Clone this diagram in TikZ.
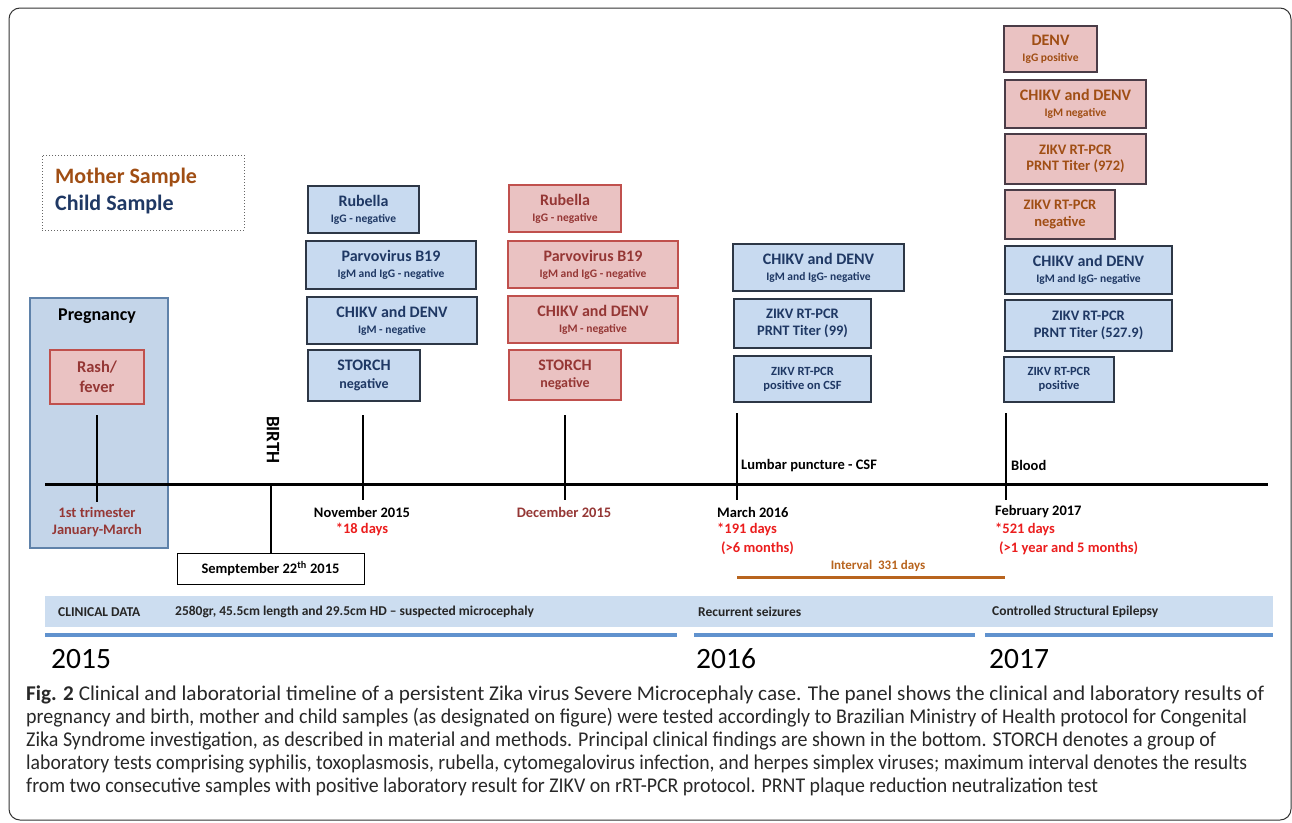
\documentclass[tikz,border=0pt]{standalone}
\usepackage{fontspec}
\usepackage{graphicx}
\setmainfont{Carlito}
\definecolor{cfill}{RGB}{200,218,240}
\definecolor{cdraw}{RGB}{45,55,70}
\definecolor{cnavy}{RGB}{31,56,100}
\definecolor{mfill}{RGB}{234,194,194}
\definecolor{mdraw}{RGB}{192,80,77}
\definecolor{mred}{RGB}{149,55,53}
\definecolor{mbrown}{RGB}{160,78,20}
\definecolor{pfill}{RGB}{196,213,233}
\definecolor{pdraw}{RGB}{95,130,170}
\definecolor{bandfill}{RGB}{204,221,240}
\definecolor{barblue}{RGB}{96,146,206}
\definecolor{dred}{RGB}{235,30,30}
\definecolor{ibrown}{RGB}{184,100,30}
\definecolor{captxt}{RGB}{40,40,40}
\newcommand{\mytf}{\fontsize{16}{16}\selectfont\bfseries}
\newcommand{\mysf}{\fontsize{11.5}{16}\selectfont\bfseries}
\newcommand{\caplinex}[2]{\resizebox{#1pt}{\height}{#2}}
\tikzset{
  cbox/.style={draw=cdraw, fill=cfill, line width=1.1pt, text=cnavy, align=center, inner sep=0pt},
  mbox/.style={draw=mdraw, fill=mfill, line width=1.1pt, text=mred, align=center, inner sep=0pt},
  fbox/.style={mbox, draw=cdraw!80!mdraw, text=mbrown},
  two/.style={font=\fontsize{11.5}{16}\selectfont\bfseries},
  big/.style={font=\fontsize{14.5}{16.5}\selectfont\bfseries},
  small/.style={font=\fontsize{12.5}{14}\selectfont\bfseries},
  stor/.style={font=\fontsize{14}{17.5}\selectfont\bfseries},
  tick/.style={line width=1.4pt, black},
  lbl/.style={font=\fontsize{14.5}{16}\selectfont\bfseries, inner sep=0pt},
  clin/.style={font=\fontsize{13.5}{14}\selectfont\bfseries, anchor=west, inner sep=0pt, text=black!85},
  year/.style={font=\fontsize{29.5}{32}\selectfont, anchor=west, inner sep=0pt},
  capl/.style={anchor=base west, inner sep=0pt, text=captxt, font=\fontsize{21}{23}\selectfont},
}
\begin{document}
\begin{tikzpicture}[x=1pt,y=-1pt]
\useasboundingbox (0,0) rectangle (1292,822);
% outer frame
\draw[line width=1pt, black!80, rounded corners=11pt] (9,8) rectangle (1291,820);
% legend
\node[draw=black!60, dotted, line width=1pt, minimum width=202, minimum height=75, inner sep=0pt] (legend) at (143,192.5) {};
\node[anchor=west, inner sep=0pt, text=mbrown, font=\fontsize{22}{24}\selectfont\bfseries] (lm) at (55,178) {Mother Sample};
\node[anchor=west, inner sep=0pt, text=cnavy, font=\fontsize{22}{24}\selectfont\bfseries] (lc) at (55,205) {Child Sample};
% pregnancy
\node[draw=pdraw, fill=pfill, line width=1.1pt, minimum width=138, minimum height=250, inner sep=0pt] (preg) at (99,423) {};
\node[inner sep=0pt, font=\fontsize{18}{20}\selectfont\bfseries] (pregt) at (97,316) {Pregnancy};
\node[mbox, minimum width=94, minimum height=54, font=\fontsize{16.5}{20}\selectfont\bfseries] (rash) at (97,377) {Rash/\\fever};
% main timeline
\coordinate (tl0) at (45,484);
\coordinate (tl1) at (1268,484);
\draw[line width=3pt] (tl0) -- (tl1);
% pregnancy tick
\coordinate (p0) at (97,415); \coordinate (p1) at (97,502);
\draw[tick] (p0) -- (p1);
\node[lbl, text=mred, align=center, font=\fontsize{14.5}{17}\selectfont\bfseries] (trim) at (97,522) {1st trimester\\January-March};
% birth
\node[draw=black, fill=white, line width=1pt, minimum width=187, minimum height=31, inner sep=0pt, font=\fontsize{14.5}{16}\selectfont\bfseries] (date) at (270.5,568.5) {Semptember 22\textsuperscript{th} 2015};
\coordinate (b0) at (271,484);
\draw[tick] (b0) -- (date.north -| b0);
\node[lbl, rotate=-90, font=\fontsize{19}{20}\selectfont\bfseries] (birth) at (273,440) {BIRTH};
% November (child)
\node[cbox, two, minimum width=111, minimum height=47] (nr) at (363.5,209.5) {{\mytf Rubella}\\IgG - negative};
\node[cbox, two, minimum width=170, minimum height=48] (np) at (391,265) {{\mytf Parvovirus B19}\\IgM and IgG - negative};
\node[cbox, two, minimum width=170, minimum height=47] (nc) at (392,320.5) {{\mytf CHIKV and DENV}\\IgM - negative};
\node[cbox, stor, minimum width=112, minimum height=51] (ns) at (364,375.5) {{\mytf STORCH}\\negative};
\coordinate (n0) at (363,415); \coordinate (n1) at (363,500);
\draw[tick] (n0) -- (n1);
\node[lbl] (nl1) at (362,512) {November 2015};
\node[lbl, text=dred] (nl2) at (362,529) {*18 days};
% December (mother)
\node[mbox, two, minimum width=112, minimum height=47] (dr) at (565,208.5) {{\mytf Rubella}\\IgG - negative};
\node[mbox, two, minimum width=170, minimum height=47] (dp) at (593,264.5) {{\mytf Parvovirus B19}\\IgM and IgG - negative};
\node[mbox, two, minimum width=170, minimum height=47] (dc) at (593,319.5) {{\mytf CHIKV and DENV}\\IgM - negative};
\node[mbox, stor, minimum width=112, minimum height=50] (ds) at (565,375) {{\mytf STORCH}\\negative};
\coordinate (d0) at (565,415); \coordinate (d1) at (565,500);
\draw[tick] (d0) -- (d1);
\node[lbl, text=mred] (dl1) at (564,512) {December 2015};
% March 2016 (child)
\node[cbox, two, minimum width=171, minimum height=47] (mc) at (818.5,267.5) {{\mytf CHIKV and DENV}\\IgM and IgG- negative};
\node[cbox, big, minimum width=137, minimum height=49] (mz) at (802.5,323.5) {ZIKV RT-PCR\\PRNT Titer (99)};
\node[cbox, small, minimum width=137, minimum height=46] (mp) at (802.5,379) {ZIKV RT-PCR\\positive on CSF};
\coordinate (m0) at (737,413); \coordinate (m1) at (737,500);
\draw[tick] (m0) -- (m1);
\node[lbl, anchor=west] (lp) at (741,466) {Lumbar puncture - CSF};
\node[lbl, anchor=west] (ml1) at (717,512) {March 2016};
\node[lbl, anchor=west, text=dred] (ml2) at (717,529) {*191 days};
\node[lbl, anchor=west, text=dred] (ml3) at (721,548) {(>6 months)};
% February 2017
\node[fbox, two, minimum width=93, minimum height=46] (f1) at (1050.5,49) {{\mytf DENV}\\IgG positive};
\node[fbox, two, minimum width=141, minimum height=48] (f2) at (1075.5,104) {{\mytf CHIKV and DENV}\\IgM negative};
\node[fbox, big, minimum width=141, minimum height=50] (f3) at (1075.5,159) {ZIKV RT-PCR\\PRNT Titer (972)};
\node[fbox, big, minimum width=110, minimum height=49] (f4) at (1060,214.5) {ZIKV RT-PCR\\negative};
\node[cbox, two, minimum width=167, minimum height=48] (f5) at (1088.5,270) {{\mytf CHIKV and DENV}\\IgM and IgG- negative};
\node[cbox, big, minimum width=167, minimum height=51] (f6) at (1088.5,325.5) {ZIKV RT-PCR\\PRNT Titer (527.9)};
\node[cbox, small, minimum width=110, minimum height=45] (f7) at (1059,379.5) {ZIKV RT-PCR\\positive};
\coordinate (fb0) at (1006,413); \coordinate (fb1) at (1006,500);
\draw[tick] (fb0) -- (fb1);
\node[lbl, anchor=west] (bl) at (1011,465) {Blood};
\node[lbl, anchor=west] (fl1) at (995,512) {February 2017};
\node[lbl, anchor=west, text=dred] (fl2) at (995,529) {*521 days};
\node[lbl, anchor=west, text=dred] (fl3) at (999,548) {(>1 year and 5 months)};
% interval
\coordinate (i0) at (737,577); \coordinate (i1) at (1005,577);
\draw[line width=3pt, ibrown] (i0) -- (i1);
\node[inner sep=0pt, text=ibrown, font=\fontsize{13}{14}\selectfont\bfseries] (il) at (878,566) {Interval~~331 days};
% clinical band
\fill[bandfill] (45,596) rectangle (1273,627);
\node[clin] (cd) at (58,612) {CLINICAL DATA};
\node[clin] (c1) at (175,612) {2580gr, 45.5cm length and 29.5cm HD -- suspected microcephaly};
\node[clin] (c2) at (698,612) {Recurrent seizures};
\node[clin] (c3) at (992,612) {Controlled Structural Epilepsy};
% year bars
\draw[line width=4pt, barblue] (45,635) -- (677,635);
\draw[line width=4pt, barblue] (694,635) -- (975,635);
\draw[line width=4pt, barblue] (985,635) -- (1273,635);
\node[year] (y1) at (51,659) {2015};
\node[year] (y2) at (696,659) {2016};
\node[year] (y3) at (989,659) {2017};
% caption
\node[capl] (cap1) at (26,700) {\caplinex{1238}{\textbf{Fig. 2} Clinical and laboratorial timeline of a persistent Zika virus Severe Microcephaly case. The panel shows the clinical and laboratory results of}};
\node[capl] (cap2) at (26,723) {\caplinex{1221}{pregnancy and birth, mother and child samples (as designated on figure) were tested accordingly to Brazilian Ministry of Health protocol for Congenital}};
\node[capl] (cap3) at (26,746) {\caplinex{1190}{Zika Syndrome investigation, as described in material and methods. Principal clinical findings are shown in the bottom. STORCH denotes a group of}};
\node[capl] (cap4) at (26,769) {\caplinex{1221}{laboratory tests comprising syphilis, toxoplasmosis, rubella, cytomegalovirus infection, and herpes simplex viruses; maximum interval denotes the results}};
\node[capl] (cap5) at (26,792) {\caplinex{1072}{from two consecutive samples with positive laboratory result for ZIKV on rRT-PCR protocol. PRNT plaque reduction neutralization test}};
\end{tikzpicture}
\end{document}
